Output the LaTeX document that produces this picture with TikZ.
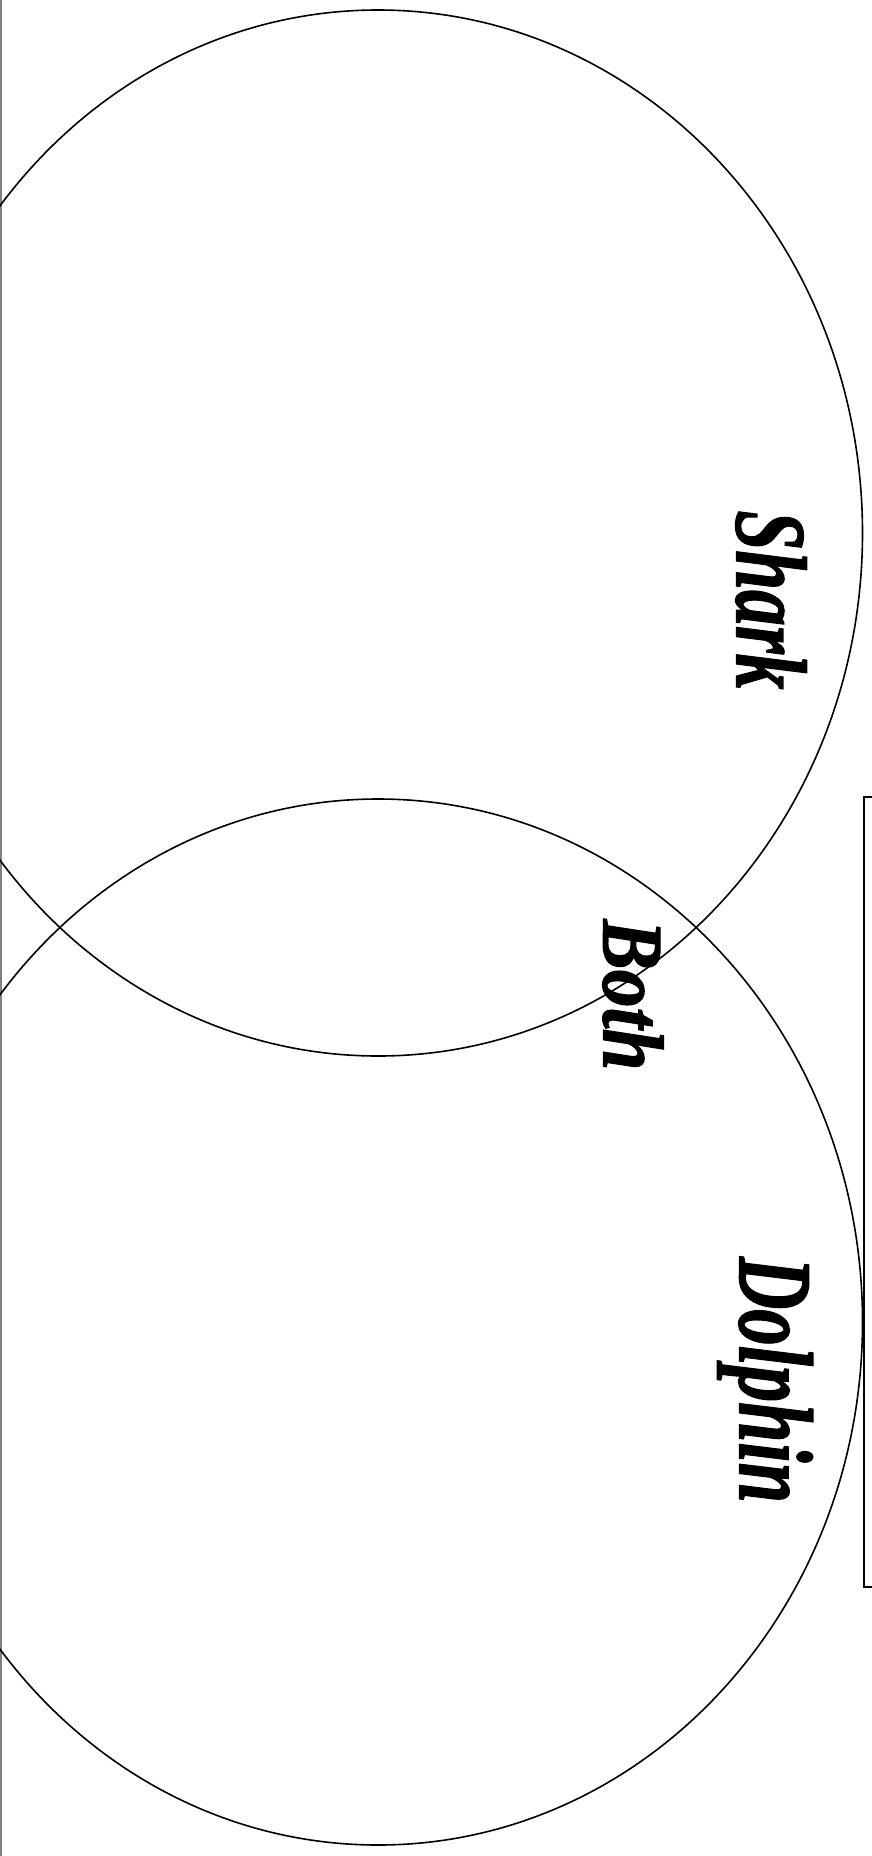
\documentclass[tikz,border=0pt]{standalone}
\usepackage{fontspec}
\usepackage{graphicx}
\usepackage{tikz}
\usetikzlibrary{shapes.geometric}
\newfontfamily\labelfont[FakeBold=1.5]{Liberation Serif}

\begin{document}
\begin{tikzpicture}[x=1pt, y=-1pt,
    setshape/.style={draw, ellipse, line width=1.6pt, inner sep=0pt,
                     minimum width=969pt, minimum height=1046pt},
    setlabel/.style={rotate=-90, inner sep=0pt,
                     font=\labelfont\bfseries\itshape\fontsize{95}{95}\selectfont},
    bothlabel/.style={setlabel, font=\labelfont\bfseries\itshape\fontsize{80}{80}\selectfont},
    edge/.style={gray, line width=2.5pt}
  ]
    \useasboundingbox (0,0) rectangle (872,1856);
    \clip (0,0) rectangle (872,1856);

    \draw[edge] (1,0) -- (1,1856);

    \node[setshape] (shark)   at (378,533)  {};
    \node[setshape] (dolphin) at (378,1322) {};

    \draw[line width=2.2pt] (864,797) rectangle (890,1587);

    \node[setlabel]  (sharklabel)   at (771,600)  {\resizebox{179pt}{70pt}{Shark}};
    \node[bothlabel] (bothlabel)    at (633,995)  {\resizebox{151pt}{60pt}{Both}};
    \node[setlabel]  (dolphinlabel) at (765,1380) {\resizebox{246pt}{73pt}{Dolphin}};
  \end{tikzpicture}
\end{document}
